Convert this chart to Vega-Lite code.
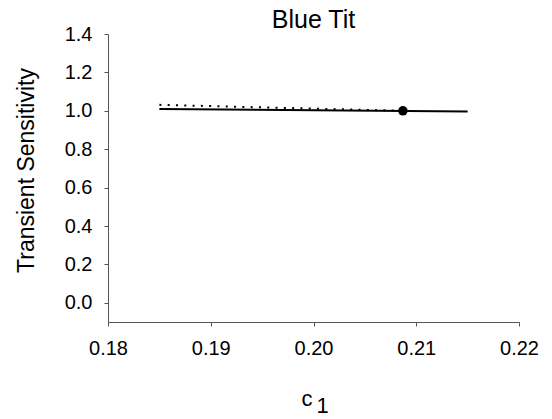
{
  "$schema": "https://vega.github.io/schema/vega-lite/v6.json",
  "autosize": "none",
  "width": 411,
  "height": 288,
  "padding": {"left": 108, "top": 34, "right": 33, "bottom": 97},
  "background": "white",
  "config": {
    "font": "Liberation Sans",
    "view": {"stroke": null},
    "axis": {"grid": false, "labelFlush": false, "labelOverlap": false, "domainColor": "#555", "tickColor": "#555", "labelColor": "black", "titleColor": "black", "labelFont": "Liberation Sans", "titleFont": "Liberation Sans", "labelFontSize": 20, "titleFontSize": 22, "titleFontWeight": "normal", "tickSize": 4, "domainWidth": 1, "tickWidth": 1}
  },
  "title": {"text": "Blue Tit", "fontSize": 25, "fontWeight": "normal", "font": "Liberation Sans", "anchor": "middle", "offset": -25, "baseline": "alphabetic", "dy": 4, "color": "black"},
  "datasets": {
    "lines": [
      {"c1": 0.185, "ts": 1.009, "series": "solid"},
      {"c1": 0.215, "ts": 0.996, "series": "solid"},
      {"c1": 0.185, "ts": 1.031, "series": "dotted"},
      {"c1": 0.2087, "ts": 1.0, "series": "dotted"}
    ],
    "pts": [{"c1": 0.2087, "ts": 1.0}]
  },
  "resolve": {"axis": {"x": "independent"}},
  "layer": [
    {
      "data": {"name": "lines"},
      "transform": [{"filter": "datum.series == 'solid'"}],
      "mark": {"type": "line", "color": "black", "strokeWidth": 2},
      "encoding": {
        "x": {"field": "c1", "type": "quantitative", "scale": {"domain": [0.18, 0.22], "nice": false, "zero": false}, "axis": {"orient": "bottom", "values": [0.18, 0.19, 0.2, 0.21, 0.22], "format": ".2f", "title": "c", "titleAlign": "left", "titleBaseline": "alphabetic", "titleAnchor": "start", "titleX": 193, "titleY": 83, "labelPadding": 12}},
        "y": {"field": "ts", "type": "quantitative", "scale": {"domain": [-0.1, 1.4], "nice": false, "zero": false}, "axis": {"values": [0, 0.2, 0.4, 0.6, 0.8, 1.0, 1.2, 1.4], "format": ".1f", "title": "Transient Sensitivity", "titleFontSize": 23, "titleY": 136, "labelPadding": 12, "titlePadding": 26}}
      }
    },
    {
      "data": {"name": "lines"},
      "transform": [{"filter": "datum.series == 'dotted'"}],
      "mark": {"type": "line", "color": "black", "strokeWidth": 2, "strokeDash": [2, 6.3]},
      "encoding": {
        "x": {"field": "c1", "type": "quantitative", "axis": {"orient": "bottom", "domain": false, "ticks": false, "labels": false, "title": "1", "titleAlign": "left", "titleBaseline": "alphabetic", "titleAnchor": "start", "titleX": 208, "titleY": 90}},
        "y": {"field": "ts", "type": "quantitative"}
      }
    },
    {
      "data": {"name": "pts"},
      "mark": {"type": "point", "filled": true, "color": "black", "size": 90, "opacity": 1},
      "encoding": {
        "x": {"field": "c1", "type": "quantitative", "axis": null},
        "y": {"field": "ts", "type": "quantitative"}
      }
    }
  ]
}
